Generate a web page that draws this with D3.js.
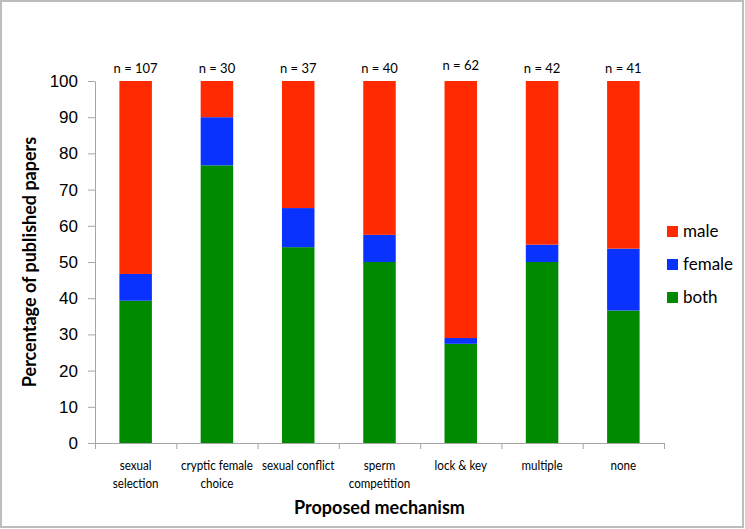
<!DOCTYPE html>
<html>
<head>
<meta charset="utf-8">
<script src="https://cdn.jsdelivr.net/npm/d3@7"></script>
<style>
  body { margin: 0; background: #fff; }
  svg { display: block; font-family: Lato, "Open Sans", sans-serif; }
  .axis path, .axis line { stroke: #a6a6a6; }
</style>
</head>
<body>
<svg></svg>
<script>
// data
var mechanisms = ["sexual selection", "cryptic female choice", "sexual conflict",
  "sperm competition", "lock & key", "multiple", "none"];
var labelLines = [["sexual", "selection"], ["cryptic female", "choice"], ["sexual conflict"],
  ["sperm", "competition"], ["lock & key"], ["multiple"], ["none"]];
var nPapers = [107, 30, 37, 40, 62, 42, 41];
var both = [39.3, 76.7, 54.1, 50.0, 27.4, 50.0, 36.6];
var female = [7.4, 13.3, 10.8, 7.5, 1.6, 4.8, 17.1];
var male = [53.3, 10.0, 35.1, 42.5, 71.0, 45.2, 46.3];
var seriesNames = ["both", "female", "male"];
var legendOrder = ["male", "female", "both"];
var yTicks = [0, 10, 20, 30, 40, 50, 60, 70, 80, 90, 100];

var width = 745;
var height = 529;
var margin = {top: 81, right: 76, bottom: 85, left: 95};

var colors = {male: "#ff2a00", female: "#0a32ff", both: "#008a00"};

var rows = mechanisms.map(function(m, i) {
  return {mechanism: m, n: nPapers[i], both: both[i], female: female[i], male: male[i]};
});

var stacked = d3.stack().keys(seriesNames)(rows);

var svg = d3.select("svg")
  .attr("width", width)
  .attr("height", height);

// outer frame
svg.append("rect")
  .attr("x", 1)
  .attr("y", 1)
  .attr("width", width - 3)
  .attr("height", height - 3)
  .attr("fill", "#fff")
  .attr("stroke", "#bdbdbd")
  .attr("stroke-width", 2);

var xScale = d3.scaleBand()
  .domain(mechanisms)
  .range([margin.left, width - margin.right - 5])
  .paddingInner(0.6)
  .paddingOuter(0.3);

var yScale = d3.scaleLinear()
  .domain([0, 100])
  .range([height - margin.bottom - 1, margin.top]);

// bars
svg.append("g")
  .selectAll("g")
  .data(stacked)
  .enter()
  .append("g")
   .attr("fill", d => colors[d.key])
  .selectAll("rect")
  .data(d => d)
  .enter()
  .append("rect")
   .attr("x", d => xScale(d.data.mechanism))
   .attr("width", xScale.bandwidth())
   .attr("y", d => yScale(d[1]))
   .attr("height", d => yScale(d[0]) - yScale(d[1]));

// y axis
var yAxis = d3.axisLeft(yScale)
  .tickValues(yTicks)
  .tickSize(7)
  .tickSizeOuter(0)
  .tickPadding(10);

var yG = svg.append("g")
  .attr("class", "axis")
  .attr("transform", `translate(${margin.left}, 0)`)
  .call(yAxis);
yG.selectAll("text")
  .style("font-size", "17px")
  .attr("fill", "#000");

// x axis: ticks at band edges, so draw with a linear scale over indices
var x0 = xScale.range()[0];
var x1 = xScale.range()[1];
var edgeScale = d3.scaleLinear().domain([0, mechanisms.length]).range([x0, x1]);
var xAxis = d3.axisBottom(edgeScale)
  .tickValues(d3.range(mechanisms.length + 1))
  .tickSize(6)
  .tickSizeOuter(0)
  .tickFormat("");

svg.append("g")
  .attr("class", "axis")
  .attr("transform", `translate(0, ${yScale(0)})`)
  .call(xAxis);

// category labels (narrow font in the original, so squeeze horizontally)
var catLabels = svg.append("g")
  .selectAll("text")
  .data(mechanisms)
  .enter()
  .append("text")
   .attr("transform", d => `translate(${xScale(d) + xScale.bandwidth() / 2}, 470) scale(0.86, 1)`)
   .style("text-anchor", "middle")
   .style("font-size", "13.5px");

catLabels.selectAll("tspan")
  .data((d, i) => labelLines[i])
  .enter()
  .append("tspan")
   .attr("x", 0)
   .attr("dy", (d, i) => i === 0 ? 0 : 18)
   .text(d => d);

// n labels
svg.append("g")
  .selectAll("text")
  .data(rows)
  .enter()
  .append("text")
   .attr("x", d => xScale(d.mechanism) + xScale.bandwidth() / 2)
   .attr("y", d => d.n === 62 ? 70 : 73)
   .style("text-anchor", "middle")
   .style("font-size", "13px")
   .text(d => "n = " + d.n);

// axis titles
svg.append("text")
  .attr("x", (x0 + x1) / 2)
  .attr("y", 514)
  .style("text-anchor", "middle")
  .style("font-weight", "bold")
  .style("font-size", "18px")
  .text("Proposed mechanism");

svg.append("text")
  .attr("transform", "rotate(-90)")
  .attr("x", -yScale(50))
  .attr("y", 36)
  .style("text-anchor", "middle")
  .style("font-weight", "bold")
  .style("font-size", "18px")
  .text("Percentage of published papers");

// legend
var legend = svg.append("g")
  .selectAll("g")
  .data(legendOrder)
  .enter()
  .append("g")
   .attr("transform", (d, i) => `translate(667, ${226 + i * 33})`);

legend.append("rect")
  .attr("width", 11)
  .attr("height", 11)
  .attr("fill", d => colors[d]);

legend.append("text")
  .attr("x", 16)
  .attr("y", 11)
  .style("font-size", "17px")
  .text(d => d);
</script>
</body>
</html>
